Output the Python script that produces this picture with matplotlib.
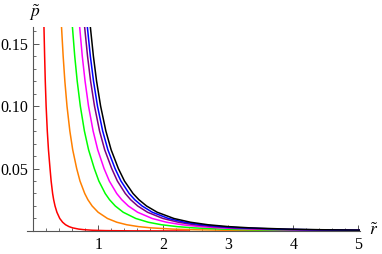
import matplotlib
matplotlib.use('agg')

import matplotlib.pyplot as plt
import numpy as np
from matplotlib.ticker import MultipleLocator, FormatStrFormatter

plt.rcParams['font.family'] = ['Liberation Serif', 'DejaVu Serif']
plt.rcParams['mathtext.fontset'] = 'stix'

# pressure levels shared by all curves, radius where each curve crosses them
p_levels = [0.165, 0.14, 0.12, 0.10, 0.08, 0.065, 0.05, 0.04, 0.03, 0.025,
            0.02, 0.015, 0.01, 0.007, 0.005, 0.0035, 0.0025, 0.0015, 0.001,
            0.0006, 0.0003, 0.0001, 0.00002]

r_red = [0.163, 0.174, 0.184, 0.197, 0.215, 0.233, 0.257, 0.274, 0.297, 0.313,
         0.334, 0.363, 0.407, 0.451, 0.496, 0.549, 0.605, 0.700, 0.786,
         0.909, 1.108, 1.517, 2.40]
r_orange = [0.432, 0.459, 0.485, 0.518, 0.562, 0.606, 0.667, 0.718, 0.791, 0.840,
            0.905, 0.997, 1.141, 1.285, 1.437, 1.618, 1.810, 2.146, 2.457,
            2.913, 3.670, 5.294, 9.05]
r_green = [0.599, 0.637, 0.675, 0.723, 0.786, 0.850, 0.938, 1.008, 1.106, 1.173,
           1.261, 1.383, 1.577, 1.769, 1.971, 2.212, 2.465, 2.907, 3.313,
           3.908, 4.886, 6.964, 11.71]
r_magenta = [0.710, 0.753, 0.796, 0.849, 0.920, 0.991, 1.088, 1.169, 1.283, 1.361,
             1.462, 1.604, 1.829, 2.051, 2.287, 2.565, 2.860, 3.372, 3.843,
             4.533, 5.667, 8.077, 13.58]
r_purple = [0.786, 0.834, 0.881, 0.941, 1.019, 1.098, 1.206, 1.293, 1.415, 1.498,
            1.606, 1.757, 1.995, 2.230, 2.477, 2.768, 3.075, 3.608, 4.096,
            4.805, 5.966, 8.411, 13.9]
r_blue = [0.828, 0.877, 0.926, 0.987, 1.067, 1.147, 1.257, 1.348, 1.474, 1.561,
          1.674, 1.831, 2.079, 2.324, 2.582, 2.885, 3.205, 3.761, 4.269,
          5.008, 6.218, 8.766, 14.49]
r_black = [0.874, 0.924, 0.973, 1.035, 1.116, 1.197, 1.308, 1.402, 1.534, 1.625,
           1.742, 1.906, 2.163, 2.418, 2.687, 3.002, 3.335, 3.914, 4.442,
           5.211, 6.471, 9.122, 15.08]

curves = [
    (r_red, '#ff0000'),
    (r_orange, '#ff8000'),
    (r_green, '#00ff00'),
    (r_magenta, '#ff00ff'),
    (r_purple, '#800080'),
    (r_blue, '#0000ff'),
    (r_black, '#000000'),
]

fig = plt.figure(figsize=(3.82, 2.54), dpi=100)
ax = fig.add_axes([0.0702, 0.0906, 0.8712, 0.802])

for r, c in curves:
    ax.plot(r, p_levels, color=c, lw=1.1)

ax.set_xlim(-0.1, 5.02)
ax.set_ylim(0, 0.163)

for s in ['top', 'right']:
    ax.spines[s].set_visible(False)
ax.spines['left'].set_position(('data', 0))
ax.spines['bottom'].set_position(('data', 0))
for s in ['left', 'bottom']:
    ax.spines[s].set_color('#555555')
    ax.spines[s].set_linewidth(0.8)

ax.set_xticks([1, 2, 3, 4, 5])
ax.set_yticks([0.05, 0.10, 0.15])
ax.xaxis.set_minor_locator(MultipleLocator(0.2))
ax.yaxis.set_minor_locator(MultipleLocator(0.01))
ax.yaxis.set_major_formatter(FormatStrFormatter('%.2f'))
ax.tick_params(which='both', direction='in', color='#555555', labelsize=11.5, pad=4)
ax.tick_params(which='major', length=4, width=0.7)
ax.tick_params(which='minor', length=2.2, width=0.6)

fig.text(35 / 382, 1 - 13 / 254, r'$\tilde{p}$', fontsize=12.5, ha='center', va='center')
fig.text(374 / 382, 1 - 231 / 254, r'$\tilde{r}$', fontsize=12.5, ha='center', va='center')

fig.savefig('out.png', dpi=100)
